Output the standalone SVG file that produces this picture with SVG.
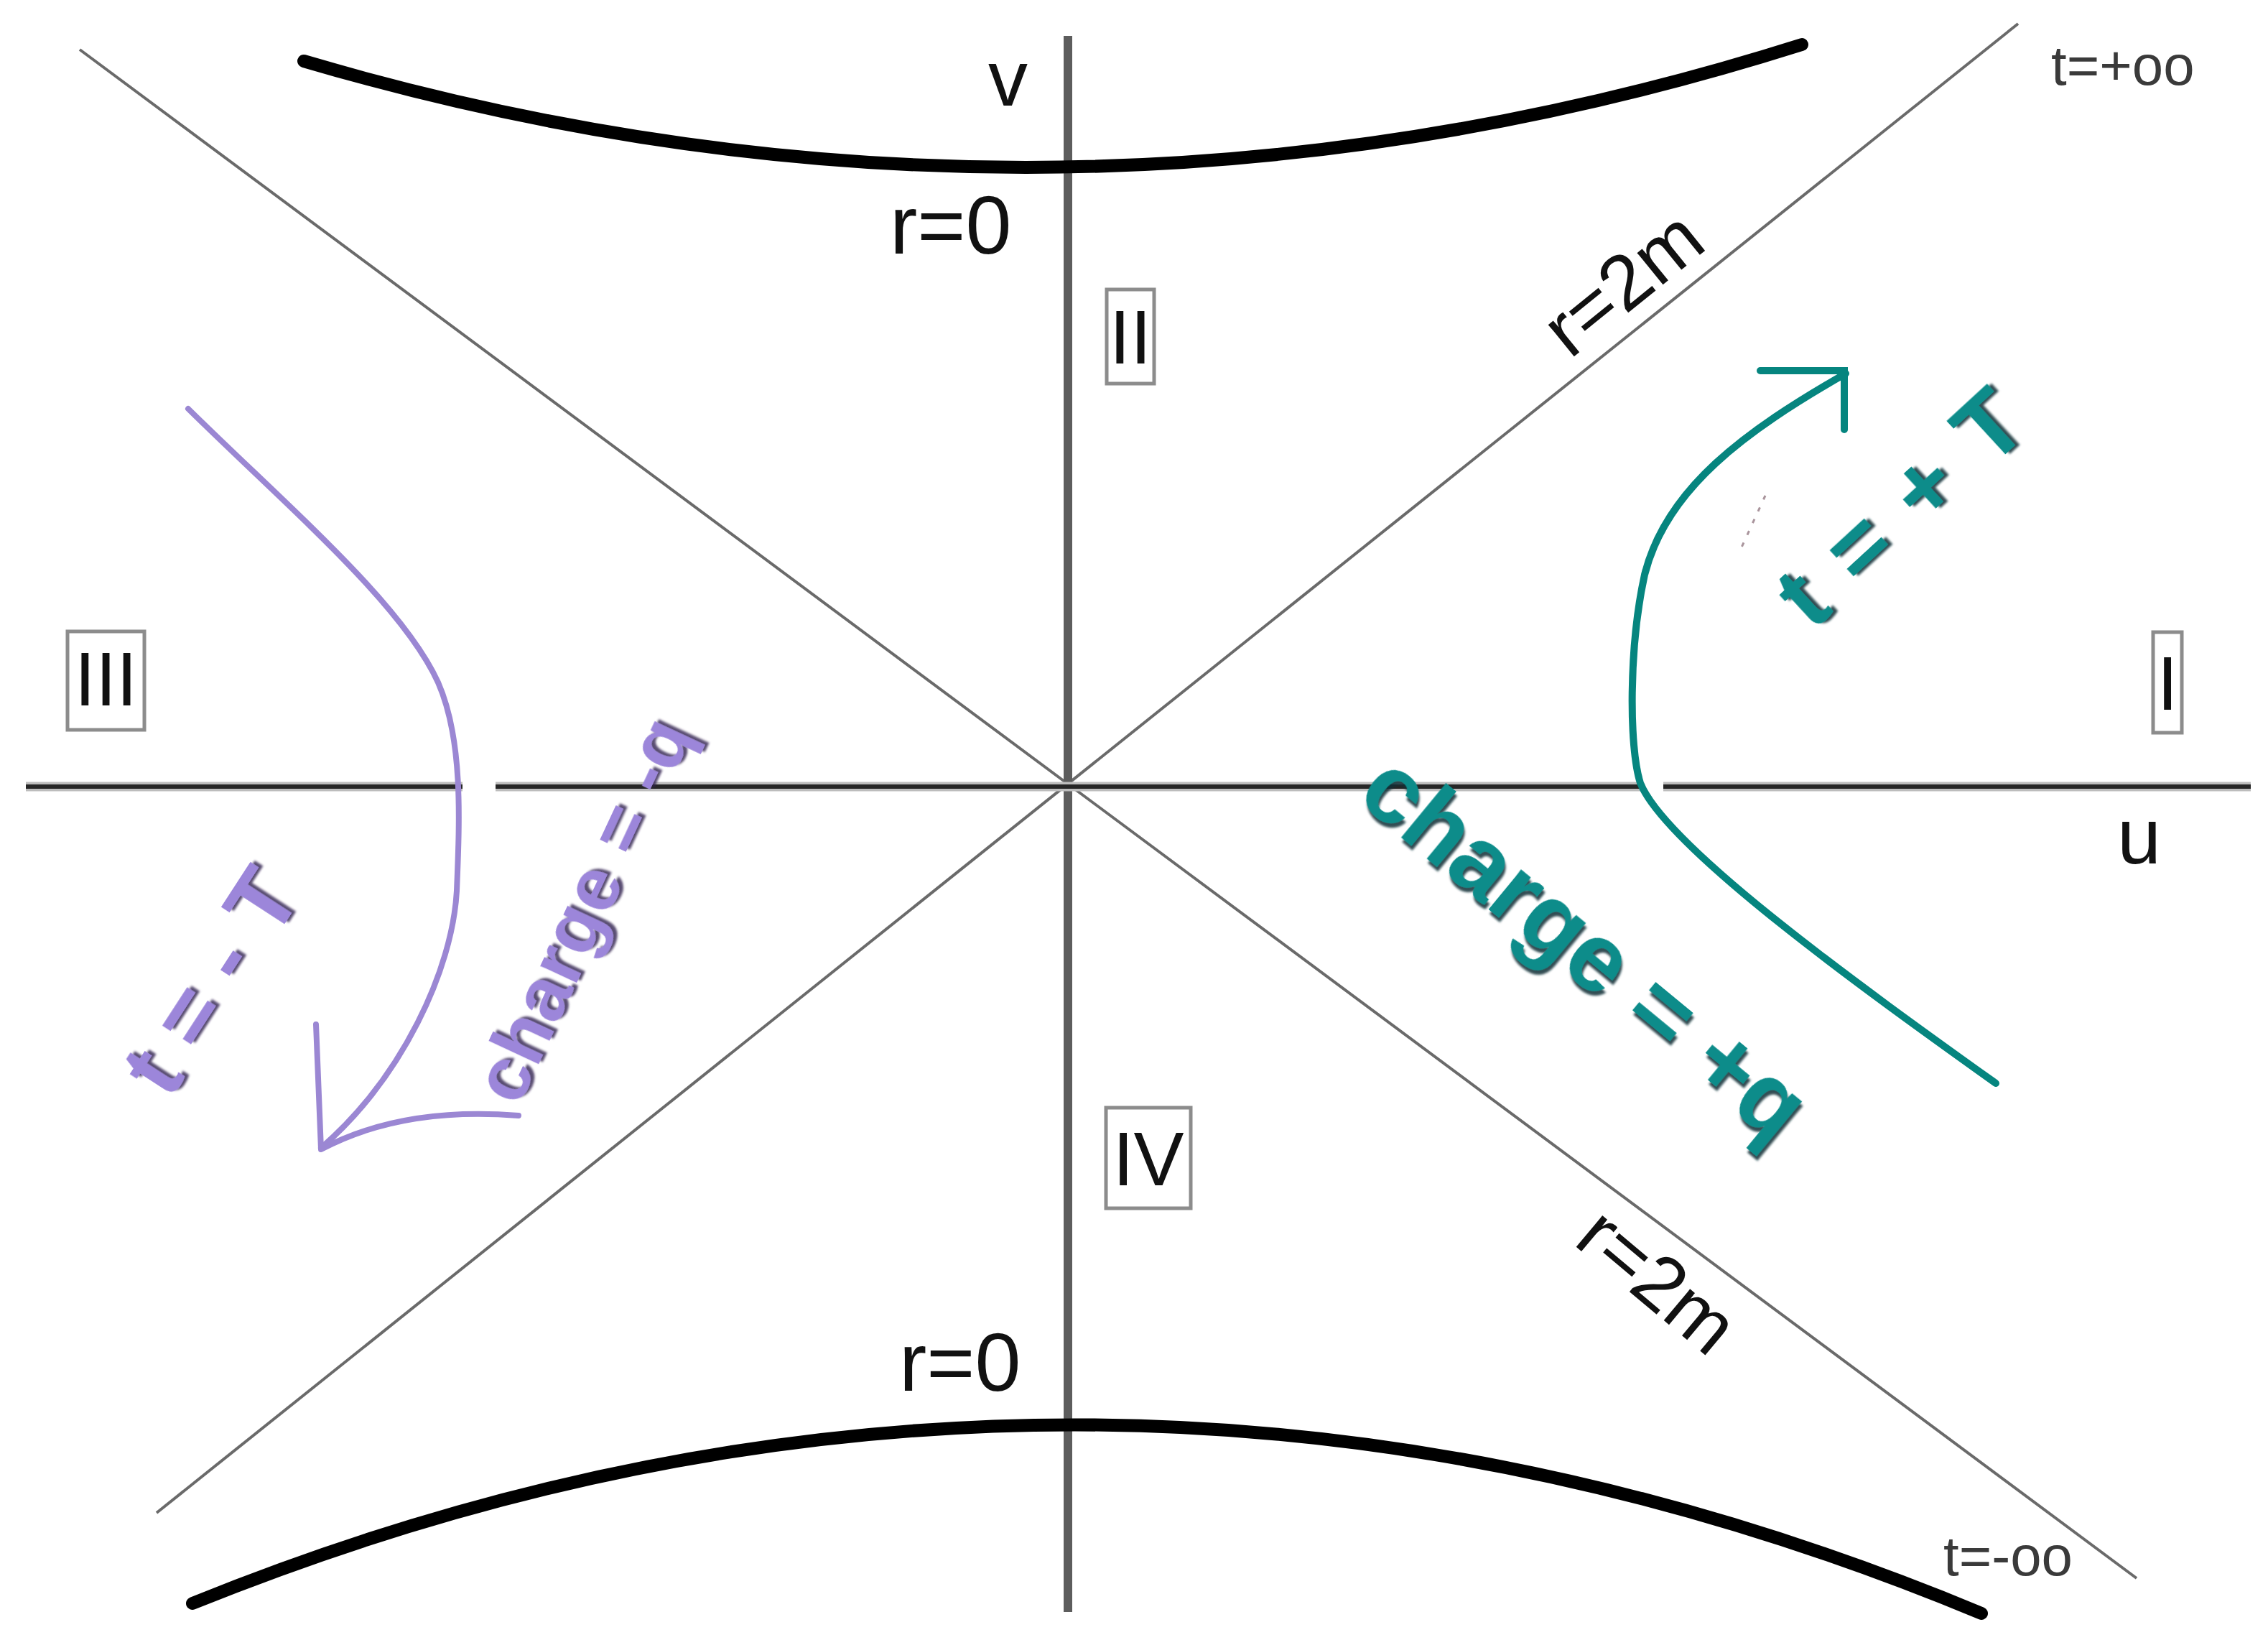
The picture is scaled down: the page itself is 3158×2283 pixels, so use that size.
<svg xmlns="http://www.w3.org/2000/svg" width="3158" height="2283" viewBox="0 0 3158 2283">
  <defs>
    <style>
      .lbl { font-family: "Liberation Sans", Arial, sans-serif; fill: #111; }
      .small { font-family: "Liberation Sans", Arial, sans-serif; fill: #3a3a3a; font-size: 78px; }
      .box { fill: #fff; stroke: #8c8c8c; stroke-width: 5; }
      .roman { font-family: "Liberation Sans", Arial, sans-serif; fill: #111; font-size: 105px; text-anchor: middle; }
      .diag { stroke: #6a6a6a; stroke-width: 4; fill: none; }
      .sing { stroke: #000; stroke-width: 18; fill: none; stroke-linecap: round; }
      .teal { stroke: #06857f; stroke-width: 10; fill: none; stroke-linecap: round; stroke-linejoin: miter; }
      .purple { stroke: #9b87d3; stroke-width: 8; fill: none; stroke-linecap: round; stroke-linejoin: round; }
      .wt { font-family: "Liberation Sans", Arial, sans-serif; font-weight: bold; fill: #0a8c8a; filter: url(#shT); }
      .wp { font-family: "Liberation Sans", Arial, sans-serif; font-weight: bold; fill: #9c86da; filter: url(#shP); }
    </style>
    <filter id="shT" x="-20%" y="-20%" width="140%" height="140%">
      <feDropShadow dx="5" dy="4" stdDeviation="1.5" flood-color="#0d2f35" flood-opacity="0.85"/>
    </filter>
    <filter id="shP" x="-20%" y="-20%" width="140%" height="140%">
      <feDropShadow dx="5" dy="4" stdDeviation="1.5" flood-color="#2e2150" flood-opacity="0.8"/>
    </filter>
  </defs>
  <rect width="3158" height="2283" fill="#fff"/>

  <g id="axes">
    <line class="diag" x1="111" y1="69" x2="2975" y2="2197"/>
    <line class="diag" x1="2810" y1="33" x2="218" y2="2106"/>
    <line x1="1487" y1="50" x2="1487" y2="2244" stroke="#5d5d5d" stroke-width="12"/>
    <g stroke-linecap="butt">
      <line x1="36" y1="1095" x2="644" y2="1095" stroke="#bdbdbd" stroke-width="13"/>
      <line x1="690" y1="1095" x2="2288" y2="1095" stroke="#bdbdbd" stroke-width="13"/>
      <line x1="2316" y1="1095" x2="3134" y2="1095" stroke="#bdbdbd" stroke-width="13"/>
      <line x1="36" y1="1095" x2="644" y2="1095" stroke="#262626" stroke-width="6"/>
      <line x1="690" y1="1095" x2="2288" y2="1095" stroke="#262626" stroke-width="6"/>
      <line x1="2316" y1="1095" x2="3134" y2="1095" stroke="#262626" stroke-width="6"/>
    </g>
  </g>

  <g id="singularities">
    <path class="sing" d="M 423,85 Q 1466,392 2509,62"/>
    <path class="sing" d="M 268,2232 Q 1513,1728 2759,2246"/>
  </g>

  <g id="axis-labels">
    <text class="lbl" x="1376" y="147" font-size="110">v</text>
    <text class="lbl" x="2948" y="1202" font-size="110">u</text>
    <text class="lbl" x="1239" y="353" font-size="115">r=0</text>
    <text class="lbl" x="1252" y="1936" font-size="115">r=0</text>
    <text class="small" x="2856" y="118">t=+oo</text>
    <text class="small" x="2706" y="2193">t=-oo</text>
    <text class="lbl" font-size="108" transform="translate(2186,501) rotate(-39)">r=2m</text>
    <text class="lbl" font-size="108" transform="translate(2189,1731) rotate(40)">r=2m</text>
  </g>

  <g id="region-I">
    <rect class="box" x="2998" y="880" width="40" height="140"/>
    <text class="roman" x="3018" y="988">I</text>
  </g>
  <g id="region-II">
    <rect class="box" x="1541" y="403" width="66" height="131"/>
    <text class="roman" x="1574" y="506">II</text>
  </g>
  <g id="region-III">
    <rect class="box" x="94" y="879" width="107" height="137"/>
    <text class="roman" x="147.5" y="982">III</text>
  </g>
  <g id="region-IV">
    <rect class="box" x="1540" y="1542" width="118" height="140"/>
    <text class="roman" x="1599" y="1650">IV</text>
  </g>

  <g id="connectors">
    <g id="teal-worldline">
      <path class="teal" d="M 2779,1508 C 2600,1380 2320,1180 2284,1090 C 2268,1040 2268,900 2290,800 C 2320,680 2430,600 2570,520"/>
      <polyline class="teal" points="2451,516 2568,516 2568,598"/>
    </g>
    <g id="purple-worldline">
      <path class="purple" d="M 262,569 C 400,705 560,840 610,950 C 645,1030 640,1140 636,1240 C 630,1350 560,1500 447,1598"/>
      <path class="purple" d="M 440,1426 L 447,1600 Q 560,1540 722,1553"/>
    </g>
    <path d="M 2458,690 L 2424,764" stroke="#a9949c" stroke-width="3" stroke-dasharray="6 12" fill="none"/>
  </g>

  <g id="teal-labels">
    <text class="wt" font-size="130" textLength="415" lengthAdjust="spacing" transform="translate(2523,880) rotate(-42.6)">t = + T</text>
    <text class="wt" font-size="135" transform="translate(1886,1112) rotate(39.5)">charge = +q</text>
  </g>
  <g id="purple-labels">
    <text class="wp" font-size="127" textLength="342" lengthAdjust="spacing" transform="translate(236,1533) rotate(-57)">t = - T</text>
    <text class="wp" font-size="105" textLength="575" lengthAdjust="spacing" transform="translate(722,1542) rotate(-65)">charge = -q</text>
  </g>
</svg>
